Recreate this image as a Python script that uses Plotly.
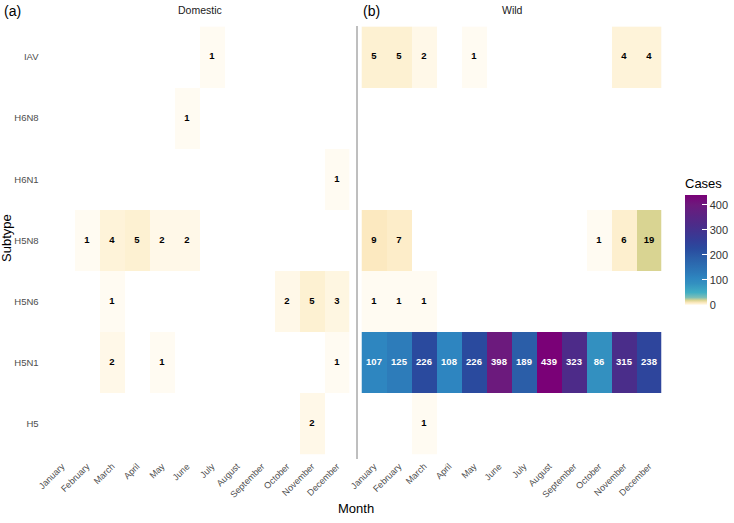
import plotly.graph_objects as go

months = ["January", "February", "March", "April", "May", "June", "July",
          "August", "September", "October", "November", "December"]
subtypes = ["IAV", "H6N8", "H6N1", "H5N8", "H5N6", "H5N1", "H5"]
N = None
domestic_cases = [
    [N, N, N, N, N, N, 1, N, N, N, N, N],      # IAV
    [N, N, N, N, N, 1, N, N, N, N, N, N],      # H6N8
    [N, N, N, N, N, N, N, N, N, N, N, 1],      # H6N1
    [N, 1, 4, 5, 2, 2, N, N, N, N, N, N],      # H5N8
    [N, N, 1, N, N, N, N, N, N, 2, 5, 3],      # H5N6
    [N, N, 2, N, 1, N, N, N, N, N, N, 1],      # H5N1
    [N, N, N, N, N, N, N, N, N, N, 2, N],      # H5
]
wild_cases = [
    [5, 5, 2, N, 1, N, N, N, N, N, 4, 4],                              # IAV
    [N, N, N, N, N, N, N, N, N, N, N, N],                              # H6N8
    [N, N, N, N, N, N, N, N, N, N, N, N],                              # H6N1
    [9, 7, N, N, N, N, N, N, N, 1, 6, 19],                             # H5N8
    [1, 1, 1, N, N, N, N, N, N, N, N, N],                              # H5N6
    [107, 125, 226, 108, 226, 398, 189, 439, 323, 86, 315, 238],       # H5N1
    [N, N, 1, N, N, N, N, N, N, N, N, N],                              # H5
]
cbar_ticks = [0, 100, 200, 300, 400]

W, H = 734, 523
def px(x):
    return x / W
def py(y):
    return (H - y) / H

zmax = 439.0
stops = [
    (0, "#fffdf8"), (1, "#fffbf2"), (2, "#fff8e8"), (5, "#fdf1d2"),
    (9, "#fce9c0"), (19, "#d9d492"), (30, "#7dbfb6"), (50, "#40aec4"),
    (86, "#3390c0"), (107, "#2e86c0"), (125, "#2d7cba"), (189, "#2b5ea8"),
    (226, "#2a4a9e"), (260, "#343d97"), (315, "#4a2d8a"), (398, "#6c1a7d"),
    (439, "#7a0177"),
]
colorscale = [[v / zmax, c] for v, c in stops]

fig = go.Figure()

panels = [(domestic_cases, "x", "y"), (wild_cases, "x2", "y2")]
for data, xa, ya in panels:
    fig.add_trace(go.Heatmap(
        z=data, x=months, y=subtypes, coloraxis="coloraxis",
        xaxis=xa, yaxis=ya, hoverongaps=False, xgap=0, ygap=0))
    for dark in (False, True):
        xs, ys, ts = [], [], []
        for i, row in enumerate(data):
            for j, v in enumerate(row):
                if v is None:
                    continue
                if (v > 60) == dark:
                    xs.append(months[j]); ys.append(subtypes[i]); ts.append(str(v))
        if xs:
            fig.add_trace(go.Scatter(
                x=xs, y=ys, text=ts, mode="text", xaxis=xa, yaxis=ya,
                textfont=dict(family="Liberation Sans, Arial", size=9.5,
                              color="white" if dark else "black", weight="bold"),
                showlegend=False, hoverinfo="skip"))

xfont = dict(family="Liberation Sans, Arial", size=9, color="#4d4d4d")
ax_common = dict(type="category", categoryorder="array", categoryarray=months,
                 range=[-0.5, 11.5], showgrid=False, zeroline=False, showline=False,
                 tickangle=-45, tickfont=xfont, ticks="outside", ticklen=2,
                 tickcolor="rgba(0,0,0,0)", fixedrange=True, automargin=False)
ay_common = dict(type="category", categoryorder="array", categoryarray=subtypes,
                 range=[6.5, -0.5], showgrid=False, zeroline=False, showline=False,
                 fixedrange=True, automargin=False)

ydom = [py(454.6), py(26.4)]
fig.update_layout(
    width=W, height=H,
    margin=dict(l=0, r=0, t=0, b=0, autoexpand=False),
    paper_bgcolor="white", plot_bgcolor="white",
    showlegend=False,
    xaxis=dict(domain=[px(49.5), px(349.5)], anchor="y", **ax_common),
    xaxis2=dict(domain=[px(361.5), px(661.5)], anchor="y2", **ax_common),
    yaxis=dict(domain=ydom, anchor="x", ticks="outside", ticklen=8,
               tickcolor="rgba(0,0,0,0)",
               tickfont=dict(family="Liberation Sans, Arial", size=9.5, color="#4d4d4d"),
               **ay_common),
    yaxis2=dict(domain=ydom, anchor="x2", showticklabels=False, **ay_common),
    coloraxis=dict(
        colorscale=colorscale, cmin=0, cmax=zmax,
        colorbar=dict(
            x=px(685), xanchor="left", y=py(305), yanchor="bottom",
            lenmode="pixels", len=130, thickness=22, outlinewidth=0,
            xpad=0, ypad=0,
            tickvals=cbar_ticks, ticks="inside", ticklen=5, tickcolor="white",
            tickfont=dict(family="Liberation Sans, Arial", size=11, color="#333333"),
            title=dict(text="Cases", side="top",
                       font=dict(family="Liberation Sans, Arial", size=13, color="black")),
        )),
    shapes=[dict(type="line", xref="paper", yref="paper",
                 x0=px(357), x1=px(357), y0=py(459), y1=py(26),
                 line=dict(color="#7f7f7f", width=1))],
    annotations=[
        dict(text="(a)", x=px(2), y=py(11), xref="paper", yref="paper",
             xanchor="left", yanchor="middle", showarrow=False,
             font=dict(family="Liberation Sans, Arial", size=14, color="black")),
        dict(text="(b)", x=px(361), y=py(11), xref="paper", yref="paper",
             xanchor="left", yanchor="middle", showarrow=False,
             font=dict(family="Liberation Sans, Arial", size=14, color="black")),
        dict(text="Domestic", x=px(200), y=py(10), xref="paper", yref="paper",
             xanchor="center", yanchor="middle", showarrow=False,
             font=dict(family="Liberation Sans, Arial", size=10.5, color="#1a1a1a")),
        dict(text="Wild", x=px(512), y=py(10), xref="paper", yref="paper",
             xanchor="center", yanchor="middle", showarrow=False,
             font=dict(family="Liberation Sans, Arial", size=10.5, color="#1a1a1a")),
        dict(text="Subtype", x=px(7), y=py(238), xref="paper", yref="paper",
             xanchor="center", yanchor="middle", showarrow=False, textangle=-90,
             font=dict(family="Liberation Sans, Arial", size=13, color="black")),
        dict(text="Month", x=px(356), y=py(508), xref="paper", yref="paper",
             xanchor="center", yanchor="middle", showarrow=False,
             font=dict(family="Liberation Sans, Arial", size=13, color="black")),
    ],
)

fig.write_html("out.html")
